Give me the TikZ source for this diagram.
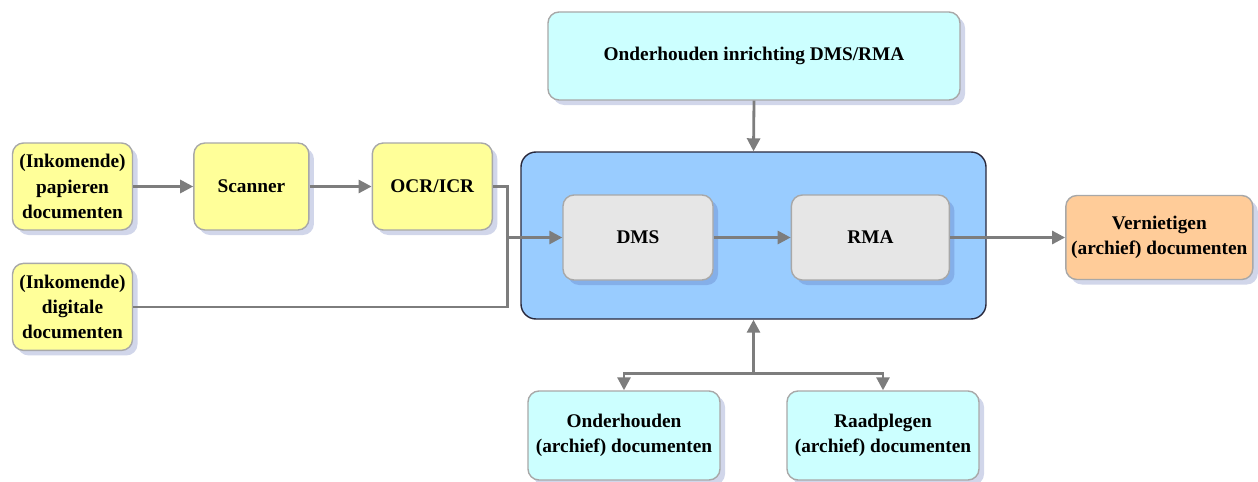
\documentclass[tikz,border=0pt]{standalone}
\usepackage{fontspec}
\setmainfont{Liberation Serif}
\usepackage{tikz}
\usetikzlibrary{positioning,arrows.meta,shadows,calc}
\usepackage{xcolor}
\definecolor{inyel}{RGB}{255,255,153}
\definecolor{beheer}{RGB}{204,255,255}
\definecolor{kern}{RGB}{153,204,255}
\definecolor{sys}{RGB}{230,230,230}
\definecolor{vern}{RGB}{255,204,153}
\definecolor{rand}{RGB}{168,168,168}
\definecolor{pijl}{RGB}{125,125,125}
\definecolor{schaduw}{RGB}{70,90,170}

\begin{document}
\begin{tikzpicture}[
    box/.style={draw=rand, line width=0.8pt, rounded corners=0.22cm, align=center,
        font=\fontsize{11}{14.5}\selectfont\bfseries, inner sep=1pt,
        drop shadow={shadow xshift=0.1cm, shadow yshift=-0.1cm, fill=schaduw, opacity=0.25}},
    inbox/.style={box, fill=inyel, minimum width=2.4cm, minimum height=1.74cm},
    arrow/.style={-{Triangle[length=2.6mm, width=2.6mm]}, line width=1.6pt, draw=pijl},
    line/.style={line width=1.6pt, draw=pijl}
]
    \useasboundingbox (0,0) rectangle (25.16,-9.64);

    % Inkomende documenten
    \node[inbox] (pap) at (1.45,-3.73) {(Inkomende)\\papieren\\documenten};
    \node[inbox, minimum width=2.3cm, right=1.2cm of pap] (scan) {Scanner};
    \node[inbox, right=1.24cm of scan] (ocr) {OCR/ICR};
    \node[inbox, below=0.64cm of pap] (dig) {(Inkomende)\\digitale\\documenten};

    % DMS/RMA
    \node[draw={rgb,255:red,40;green,40;blue,60}, line width=0.8pt, rounded corners=0.3cm, fill=kern,
        minimum width=9.3cm, minimum height=3.34cm] (kernbox) at (15.07,-4.71) {};
    \node[box, fill=sys, minimum width=3.0cm, minimum height=1.7cm] (dms) at (12.76,-4.75) {DMS};
    \node[box, fill=sys, minimum width=3.16cm, minimum height=1.7cm, right=1.54cm of dms] (rma) {RMA};

    % Beheer
    \node[box, fill=beheer, minimum width=8.24cm, minimum height=1.76cm] (inr) at (15.08,-1.12) {Onderhouden inrichting DMS/RMA};
    \node[box, fill=vern, minimum width=3.74cm, minimum height=1.68cm, right=2.3cm of rma] (vern) {Vernietigen\\(archief) documenten};
    \node[box, fill=beheer, minimum width=3.84cm, minimum height=1.78cm] (ond) at (12.48,-8.71) {Onderhouden\\(archief) documenten};
    \node[box, fill=beheer, minimum width=3.84cm, minimum height=1.78cm] (raad) at (17.66,-8.71) {Raadplegen\\(archief) documenten};

    \coordinate (samen) at ($(dms.west)+(-1.1,0)$);
    \coordinate (split) at ($(kernbox.south)+(0,-1.08)$);

    \draw[arrow] (pap) -- (scan);
    \draw[arrow] (scan) -- (ocr);
    \draw[line] (ocr.east) -| (samen);
    \draw[line] (dig.east) -| (samen);
    \draw[arrow] (samen) -- (dms.west);
    \draw[arrow] (dms) -- (rma);
    \draw[arrow] (rma.east) -- (vern.west);
    \draw[arrow] (inr.south) -- (kernbox.north);
    \draw[arrow] (split) -- (kernbox.south);
    \draw[arrow] (split) -| (ond.north);
    \draw[arrow] (split) -| (raad.north);
\end{tikzpicture}
\end{document}
